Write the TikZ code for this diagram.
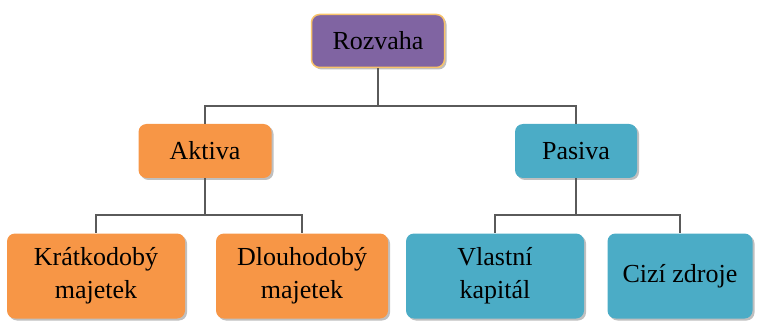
\documentclass[tikz,border=0pt]{standalone}
\usepackage{fontspec}
\setmainfont{Liberation Serif}
\usetikzlibrary{shadows}
\definecolor{purp}{HTML}{8064A2}
\definecolor{gold}{HTML}{F8C36A}
\definecolor{orng}{HTML}{F79646}
\definecolor{blu}{HTML}{4BACC6}
\definecolor{conn}{HTML}{5A5A5A}
\tikzset{
  box/.style={rounded corners=8pt, align=center, inner sep=0pt,
    font=\fontsize{26}{33}\selectfont, text=black,
    drop shadow={shadow xshift=2pt, shadow yshift=-2pt, opacity=0.25, fill=black}},
  top/.style={box, fill=purp, draw=gold, line width=1.5pt},
  ora/.style={box, fill=orng},
  blue/.style={box, fill=blu},
  link/.style={draw=conn, line width=2pt},
}
\begin{document}
\begin{tikzpicture}[x=1pt,y=-1pt]
\useasboundingbox (0,0) rectangle (760,323);
\node[top, minimum width=133pt, minimum height=53pt] (roz) at (378,41) {Rozvaha};
\node[ora, minimum width=133pt, minimum height=54pt] (ak) at (205,151) {Aktiva};
\node[blue, minimum width=122pt, minimum height=54pt] (pa) at (576,151) {Pasiva};
\node[ora, minimum width=178pt, minimum height=85pt] (kr) at (96,276) {Krátkodobý\\majetek};
\node[ora, minimum width=172pt, minimum height=85pt] (dl) at (302,276) {Dlouhodobý\\majetek};
\node[blue, minimum width=178pt, minimum height=85pt] (vl) at (495,276) {Vlastní\\kapitál};
\node[blue, minimum width=145pt, minimum height=85pt] (ci) at (680,276) {Cizí zdroje};
\path[link] (roz.south) -- ++(0,38) -| (ak.north);
\path[link] (roz.south) -- ++(0,38) -| (pa.north);
\path[link] (ak.south) -- ++(0,37) -| (kr.north);
\path[link] (ak.south) -- ++(0,37) -| (dl.north);
\path[link] (pa.south) -- ++(0,37) -| (vl.north);
\path[link] (pa.south) -- ++(0,37) -| (ci.north);
\end{tikzpicture}
\end{document}
